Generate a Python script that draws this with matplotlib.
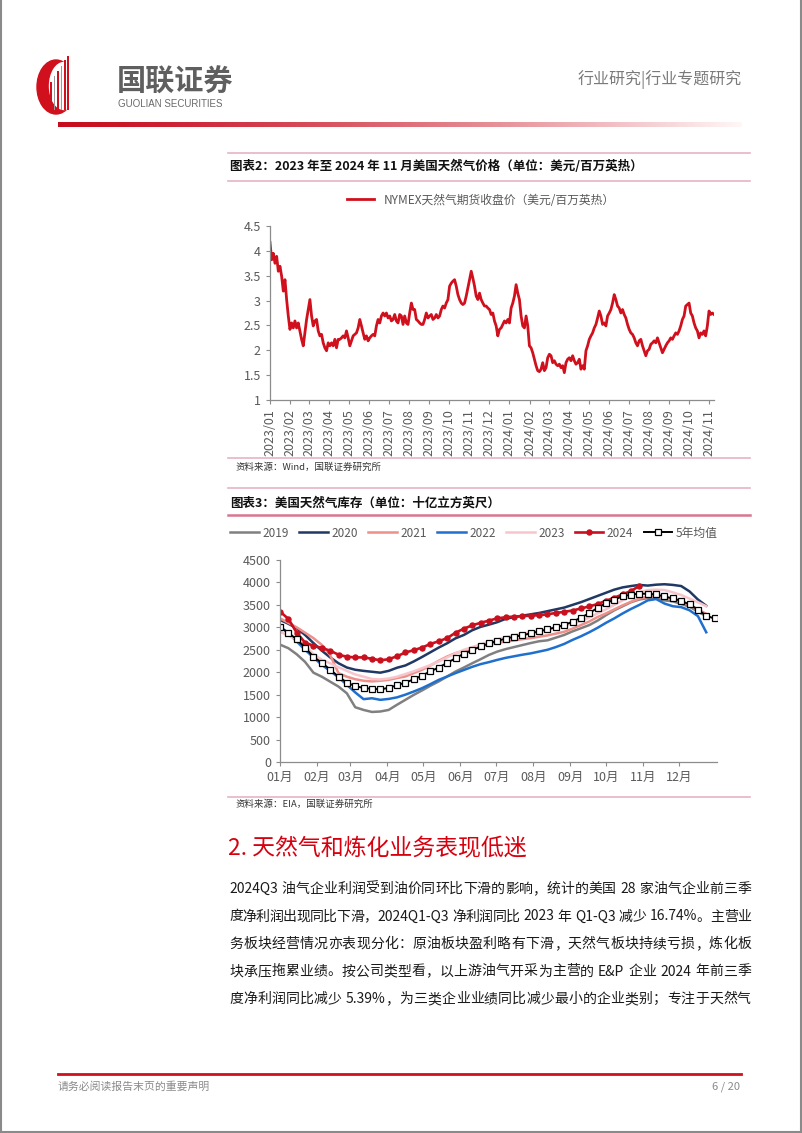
import re
import numpy as np
import pandas as pd
import matplotlib
matplotlib.use('Agg')
import matplotlib.pyplot as plt
import matplotlib.dates as mdates
from matplotlib.lines import Line2D
from matplotlib.patches import Ellipse, Rectangle
from matplotlib.ticker import FuncFormatter

plt.rcParams['font.family'] = ['Noto Sans CJK SC', 'DejaVu Sans']

W, H = 802, 1133

# ---- chart 2: NYMEX natural gas futures close (~every 2.5 days)
price = [4.17, 3.82, 3.95, 3.75, 3.89, 3.59, 3.69, 3.49, 3.19, 3.42, 3.02, 2.69, 2.42, 2.55, 2.45,
         2.59, 2.45, 2.55, 2.39, 2.22, 2.09, 2.35, 2.62, 2.82, 3.02, 2.69, 2.49, 2.59, 2.62, 2.39,
         2.29, 2.32, 2.15, 2.05, 1.99, 2.15, 2.09, 2.15, 2.09, 2.22, 2.05, 2.22, 2.22, 2.25, 2.29,
         2.25, 2.39, 2.25, 2.09, 2.19, 2.29, 2.32, 2.35, 2.45, 2.62, 2.49, 2.35, 2.22, 2.29, 2.19,
         2.25, 2.29, 2.32, 2.29, 2.49, 2.62, 2.55, 2.69, 2.75, 2.69, 2.75, 2.65, 2.69, 2.59, 2.62,
         2.72, 2.59, 2.55, 2.72, 2.69, 2.52, 2.69, 2.55, 2.52, 2.75, 2.95, 2.82, 2.82, 2.62, 2.59,
         2.55, 2.52, 2.52, 2.62, 2.75, 2.65, 2.69, 2.72, 2.62, 2.65, 2.72, 2.65, 2.69, 2.82, 2.89,
         2.85, 2.95, 3.02, 3.29, 3.35, 3.39, 3.42, 3.29, 3.12, 3.02, 2.95, 2.92, 2.95, 3.09, 3.25,
         3.42, 3.59, 3.45, 3.29, 3.09, 3.02, 3.15, 3.02, 2.95, 2.89, 2.89, 2.85, 2.82, 2.72, 2.75,
         2.59, 2.49, 2.29, 2.42, 2.45, 2.52, 2.59, 2.55, 2.62, 2.55, 2.85, 2.95, 3.09, 3.32, 3.15,
         3.02, 2.69, 2.49, 2.45, 2.69, 2.49, 2.09, 2.05, 1.95, 1.82, 1.69, 1.59, 1.57, 1.62, 1.75,
         1.59, 1.65, 1.85, 1.92, 1.89, 1.75, 1.79, 1.72, 1.69, 1.72, 1.65, 1.69, 1.55, 1.75, 1.82,
         1.85, 1.79, 1.89, 1.79, 1.72, 1.75, 1.82, 1.62, 1.69, 1.62, 1.99, 2.09, 2.22, 2.29, 2.35,
         2.45, 2.52, 2.65, 2.79, 2.69, 2.52, 2.55, 2.49, 2.69, 2.75, 2.82, 2.95, 3.12, 3.02, 2.89,
         2.85, 2.75, 2.82, 2.72, 2.65, 2.52, 2.42, 2.35, 2.32, 2.25, 2.15, 2.09, 2.19, 2.22, 2.09,
         1.99, 1.89, 1.99, 2.02, 2.12, 2.15, 2.19, 2.15, 2.25, 2.15, 2.05, 1.95, 2.02, 2.09, 2.15,
         2.19, 2.25, 2.22, 2.29, 2.35, 2.32, 2.39, 2.49, 2.62, 2.69, 2.89, 2.92, 2.95, 2.75, 2.69,
         2.55, 2.45, 2.39, 2.25, 2.35, 2.32, 2.39, 2.29, 2.49, 2.79, 2.72, 2.75, 2.72]
price_start, price_end = '2023-01-01', '2024-11-08'
price_label = 'NYMEX天然气期货收盘价（美元/百万英热）'

# ---- chart 3: US natural gas storage, weekly (Bcf)
month_names = ['01月', '02月', '03月', '04月', '05月', '06月', '07月', '08月', '09月', '10月', '11月', '12月']
month_days = [0, 31, 59, 90, 120, 151, 181, 212, 243, 273, 304, 334]
s2019 = [2615, 2535, 2400, 2230, 1990, 1900, 1790, 1680, 1530, 1220, 1160, 1115, 1125, 1160, 1275,
         1385, 1495, 1595, 1700, 1795, 1905, 2015, 2105, 2200, 2290, 2385, 2460, 2515, 2560, 2605,
         2650, 2690, 2710, 2770, 2830, 2910, 2980, 3050, 3150, 3270, 3380, 3470, 3560, 3620, 3650,
         3640, 3600, 3580, 3520, 3460, 3350, 3250]
s2020 = [3165, 3080, 2980, 2830, 2650, 2480, 2330, 2200, 2105, 2055, 2030, 2010, 1990, 2030, 2100,
         2150, 2240, 2340, 2445, 2550, 2645, 2755, 2830, 2935, 3010, 3060, 3115, 3190, 3225, 3260,
         3290, 3320, 3360, 3400, 3440, 3500, 3560, 3630, 3700, 3770, 3840, 3890, 3920, 3945, 3930,
         3950, 3960, 3945, 3920, 3800, 3620, 3480]
s2021 = [3200, 3100, 3000, 2880, 2760, 2610, 2380, 1980, 1900, 1845, 1810, 1795, 1810, 1830, 1870,
         1905, 1980, 2055, 2150, 2255, 2350, 2425, 2475, 2520, 2570, 2620, 2660, 2680, 2710, 2735,
         2760, 2790, 2820, 2860, 2900, 2970, 3050, 3130, 3230, 3310, 3400, 3490, 3570, 3640, 3680,
         3690, 3660, 3620, 3580, 3500, 3400, 3300]
s2022 = [3020, 2870, 2685, 2500, 2330, 2165, 2030, 1885, 1720, 1550, 1400, 1420, 1385, 1405, 1440,
         1500, 1570, 1645, 1735, 1830, 1905, 1980, 2050, 2120, 2180, 2225, 2275, 2320, 2355, 2390,
         2420, 2460, 2500, 2560, 2630, 2720, 2800, 2890, 2990, 3100, 3200, 3310, 3410, 3500, 3600,
         3630, 3530, 3470, 3450, 3380, 3250, 2890]
s2023 = [2900, 2820, 2730, 2600, 2400, 2280, 2200, 2110, 2030, 1950, 1900, 1850, 1840, 1860, 1900,
         1960, 2020, 2090, 2160, 2240, 2330, 2420, 2500, 2560, 2620, 2680, 2730, 2780, 2820, 2860,
         2890, 2920, 2960, 3000, 3040, 3080, 3140, 3220, 3310, 3400, 3500, 3600, 3700, 3780, 3830,
         3840, 3830, 3780, 3720, 3640, 3560, 3470]
s2024 = [3350, 3190, 2880, 2660, 2590, 2540, 2480, 2390, 2345, 2330, 2330, 2300, 2265, 2290, 2355,
         2440, 2490, 2550, 2630, 2690, 2760, 2880, 2970, 3045, 3100, 3150, 3200, 3225, 3240, 3250,
         3260, 3270, 3290, 3320, 3345, 3375, 3420, 3465, 3520, 3590, 3660, 3735, 3810, 3925]
avg5 = [3000, 2880, 2730, 2550, 2345, 2210, 2060, 1900, 1770, 1690, 1650, 1630, 1620, 1650, 1710,
        1770, 1840, 1925, 2020, 2105, 2210, 2310, 2415, 2490, 2575, 2640, 2700, 2745, 2790, 2825,
        2865, 2910, 2955, 3000, 3050, 3125, 3215, 3315, 3435, 3535, 3620, 3690, 3730, 3750, 3747,
        3732, 3688, 3643, 3590, 3509, 3397, 3256, 3197]
past_years = ['2019', '2020', '2021', '2022', '2023']
past_series = [s2019, s2020, s2021, s2022, s2023]
past_colors = ['#808080', '#1f3864', '#ee8f8a', '#1f6fcf', '#f7c6cc']

body = [
    '2024Q3 油气企业利润受到油价同环比下滑的影响，统计的美国 28 家油气企业前三季',
    '度净利润出现同比下滑，2024Q1-Q3 净利润同比 2023 年 Q1-Q3 减少 16.74%。主营业',
    '务板块经营情况亦表现分化：原油板块盈利略有下滑，天然气板块持续亏损，炼化板',
    '块承压拖累业绩。按公司类型看，以上游油气开采为主营的 E&P 企业 2024 年前三季',
    '度净利润同比减少 5.39%，为三类企业业绩同比减少最小的企业类别；专注于天然气',
]


def fx(x):
    return x / W


def fy(y):
    return 1 - y / H


fig = plt.figure(figsize=(W / 100, H / 100), dpi=100)


def hline(y, x0, x1, color, lw=1.0):
    fig.add_artist(Line2D([fx(x0), fx(x1)], [fy(y), fy(y)], color=color, lw=lw))


def txt(x, y, s, **kw):
    kw.setdefault('va', 'center')
    return fig.text(fx(x), fy(y), s, **kw)


# page frame
fig.add_artist(Line2D([fx(1), fx(1)], [0, 1], color='#8a8a8a', lw=1.5))
fig.add_artist(Line2D([fx(800.5), fx(800.5)], [0, 1], color='#8a8a8a', lw=1.5))
hline(1131.5, 0, W, '#8a8a8a', 1.5)

# logo
lg = fig.add_axes([fx(34), fy(116), 72 / W, 62 / H])
lg.set_xlim(34, 106)
lg.set_ylim(116, 54)
lg.axis('off')
lg.add_patch(Ellipse((56, 87), 38, 54, color='#d0101c'))
lg.add_patch(Ellipse((64, 86), 29, 47, color='white'))
for bx, top, c in [(50, 82, '#d0101c'), (53.5, 76, '#9a9a9a'), (57, 71, '#d0101c'),
                   (60.5, 66, '#9a9a9a'), (64, 60, '#d0101c'), (67, 56, '#d0101c')]:
    lg.add_patch(Rectangle((bx, top), 1.6, 110 - top, color=c, lw=0))
txt(117, 82, '国联证券', fontsize=21, fontweight='bold', color='#5f5f5f')
txt(118, 104, 'GUOLIAN SECURITIES', fontsize=7, color='#6a6a6a', family=['Liberation Sans', 'DejaVu Sans'])
txt(742, 80, '行业研究|行业专题研究', fontsize=11.5, color='#7a7a7a', ha='right')

# gradient bar under header
gb = fig.add_axes([fx(58), fy(127), (742 - 58) / W, 5 / H])
t = np.linspace(0, 1, 400)
c0 = np.array([0.78, 0.05, 0.12])
c1 = np.array([1.0, 0.97, 0.97])
mix = np.clip(t ** 1.3, 0, 1)[:, None]
grad = (c0 * (1 - mix) + c1 * mix)[None, :, :]
gb.imshow(grad, aspect='auto', extent=(0, 1, 0, 1))
gb.axis('off')

pink = '#e8b4c4'
# ---------------- chart 2 block
hline(153, 228, 750, pink, 1.2)
txt(230, 166, '图表2：2023 年至 2024 年 11 月美国天然气价格（单位：美元/百万英热）', fontsize=9, fontweight='bold', color='#111111')
hline(181, 228, 750, pink, 1.2)

ax1 = fig.add_axes([fx(270), fy(400), (714 - 270) / W, (400 - 226) / H])
dates = pd.date_range(price_start, price_end, periods=len(price))
ax1.plot(dates, price, color='#d0101c', lw=2.0, label=price_label)
ax1.set_xlim(pd.Timestamp('2023-01-01'), pd.Timestamp(price_end))
ax1.set_ylim(1, 4.5)
ax1.set_yticks(np.arange(1, 4.51, 0.5))
ax1.yaxis.set_major_formatter(FuncFormatter(lambda v, p: f'{v:g}'))
ax1.xaxis.set_major_locator(mdates.MonthLocator())
ax1.xaxis.set_major_formatter(mdates.DateFormatter('%Y/%m'))
for lab in ax1.get_xticklabels():
    lab.set_rotation(90)
ax1.legend(loc='center', bbox_to_anchor=(fx(481), fy(200)), bbox_transform=fig.transFigure,
           frameon=False, fontsize=8.5, handlelength=2.3, labelcolor='#595959')

# ---------------- chart 3 block
hline(458, 228, 750, pink, 1.2)
txt(236, 467, '资料来源：Wind，国联证券研究所', fontsize=6.8, color='#333333')
hline(488, 228, 750, pink, 1.2)
txt(230, 503, '图表3：美国天然气库存（单位：十亿立方英尺）', fontsize=9, fontweight='bold', color='#111111')
hline(515, 228, 750, '#d9768f', 1.8)

ax3 = fig.add_axes([fx(280), fy(762), (717 - 280) / W, (762 - 560) / H])
for name, vals, col in zip(past_years, past_series, past_colors):
    ax3.plot(np.arange(len(vals)) * 7, vals, color=col, lw=1.8, label=name)
ax3.plot(np.arange(len(s2024)) * 7, s2024, color='#c8101e', lw=1.9, marker='o', ms=3.6, label='2024')
ax3.plot(np.arange(len(avg5)) * 7, avg5, color='black', lw=1.4, marker='s', ms=4.4,
         mfc='white', mec='black', mew=0.9, label='5年均值')
ax3.set_xlim(0, 366)
ax3.set_ylim(0, 4500)
ax3.set_yticks(np.arange(0, 4501, 500))
ax3.set_xticks(month_days)
ax3.set_xticklabels(month_names)
ax3.legend(loc='center', bbox_to_anchor=(fx(474), fy(533)), bbox_transform=fig.transFigure,
           ncol=7, frameon=False, fontsize=8.5, handlelength=2.4, columnspacing=0.9, handletextpad=0.3,
           labelcolor='#595959')

for ax in (ax1, ax3):
    for s in ('top', 'right'):
        ax.spines[s].set_visible(False)
    for s in ('left', 'bottom'):
        ax.spines[s].set_color('#8c8c8c')
        ax.spines[s].set_linewidth(0.9)
    ax.tick_params(colors='#8c8c8c', labelcolor='#595959', labelsize=9, length=3, width=0.8)

hline(797, 228, 750, pink, 1.2)
txt(236, 804, '资料来源：EIA，国联证券研究所', fontsize=6.8, color='#333333')

# ---------------- text section
txt(228, 849, '2. 天然气和炼化业务表现低迷', fontsize=16.5, color='#d7000f')

rend = fig.canvas.get_renderer()


def para_line(y, s, x0=229, x1=751, size=10):
    toks = re.findall(r' |[A-Za-z0-9.%&/\-]+|\S', s)
    items = []
    sp = False
    for tk in toks:
        if tk == ' ':
            sp = True
            continue
        items.append((tk, sp))
        sp = False
    arts, widths = [], []
    for tk, _ in items:
        a = txt(0, y, tk, fontsize=size, color='#1a1a1a')
        widths.append(a.get_window_extent(rend).width)
        arts.append(a)
    spw = size * 0.28 * 100 / 72
    base = sum(widths) + spw * sum(1 for _, f in items if f)
    extra = (x1 - x0 - base) / (len(items) - 1)
    x = x0
    for a, w, (tk, f) in zip(arts, widths, items):
        if f:
            x += spw
        a.set_x(fx(x))
        x += w + extra


for i, line in enumerate(body):
    para_line(889 + i * 27.5, line)

# footer
hline(1073.5, 58, 741, '#d0101c', 2)
txt(58, 1087, '请务必阅读报告末页的重要声明', fontsize=7.8, color='#8a8a8a')
txt(740, 1087, '6 / 20', fontsize=8, color='#8a8a8a', ha='right')

fig.savefig('out.png', dpi=100)
